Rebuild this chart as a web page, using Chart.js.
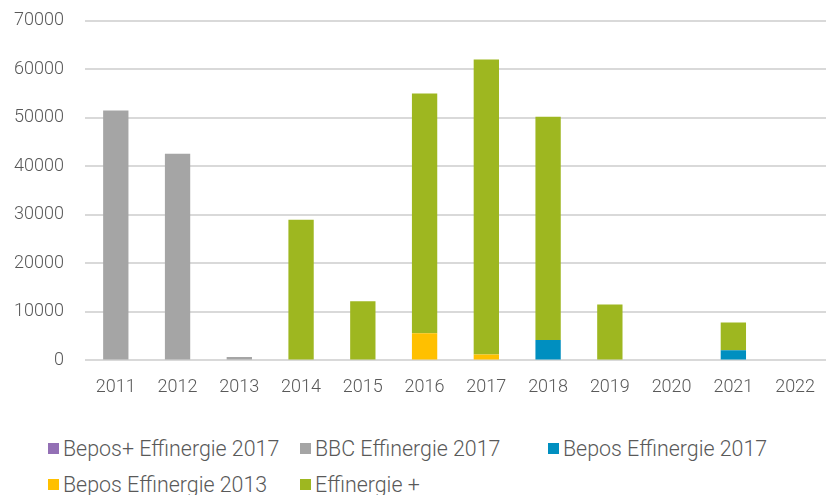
<!DOCTYPE html>
<html>
<head>
<meta charset="utf-8">
<script src="https://cdn.jsdelivr.net/npm/chart.js@4"></script>
<style>
  body { margin: 0; background: #fff; width: 832px; height: 495px; overflow: hidden; position: relative; }
  #wrap { position: absolute; left: -20px; top: -11px; width: 852px; height: 425px; }
  #legend { position: absolute; left: 48px; top: 437px; display: grid; grid-template-columns: 252px 248px 260px; row-gap: 14px;
            font-family: Roboto, "Noto Sans", sans-serif; font-weight: 300; font-size: 21.4px; color: #595959; }
  .item { display: flex; align-items: center; white-space: nowrap; height: 22px; }
  .box { width: 11px; height: 11px; margin-right: 4px; flex: none; }
</style>
</head>
<body>
<div id="wrap"><canvas id="chart"></canvas></div>
<div id="legend"></div>
<script>
const years = ['2011', '2012', '2013', '2014', '2015', '2016', '2017', '2018', '2019', '2020', '2021', '2022'];
const seriesNames = ['Bepos+ Effinergie 2017', 'BBC Effinergie 2017', 'Bepos Effinergie 2017', 'Bepos Effinergie 2013', 'Effinergie +'];
const seriesColors = ['#9370b5', '#a5a5a5', '#008fc0', '#ffc000', '#9eb720'];

const beposPlus2017 = [0, 0, 0, 0, 0, 0, 0, 0, 0, 0, 0, 0];
const bbc2017       = [51500, 42600, 700, 0, 0, 0, 0, 0, 0, 0, 0, 0];
const bepos2017     = [0, 0, 0, 0, 0, 0, 0, 4200, 0, 0, 2100, 0];
const bepos2013     = [0, 0, 0, 0, 0, 5600, 1200, 0, 0, 0, 0, 0];
const effinergiePlus = [0, 0, 0, 29000, 12200, 49400, 60800, 46000, 11500, 0, 5700, 0];

const seriesValues = [beposPlus2017, bbc2017, bepos2017, bepos2013, effinergiePlus];

const textColor = '#595959';
const font = { family: 'Roboto, "Noto Sans", sans-serif', size: 18, weight: 300 };

const chartData = {
  labels: years,
  datasets: seriesNames.map((name, i) => ({
    label: name,
    data: seriesValues[i],
    backgroundColor: seriesColors[i],
    borderWidth: 0,
    categoryPercentage: 1,
    barPercentage: 0.41
  }))
};

const chartConfig = {
  type: 'bar',
  data: chartData,
  options: {
    responsive: true,
    maintainAspectRatio: false,
    animation: false,
    events: [],
    layout: {
      padding: { left: 13, right: 6, top: 0, bottom: 0 }
    },
    plugins: {
      legend: { display: false },
      tooltip: { enabled: false }
    },
    scales: {
      x: {
        stacked: true,
        grid: { display: false, drawTicks: false },
        border: { display: false },
        ticks: { color: textColor, font: font, padding: 16 }
      },
      y: {
        stacked: true,
        min: 0,
        max: 70000,
        grid: { color: '#d9d9d9', lineWidth: 2, drawTicks: false },
        border: { display: false },
        ticks: { stepSize: 10000, color: textColor, font: font, padding: 21,
                 callback: v => String(v) }
      }
    }
  }
};

const chart = new Chart(document.getElementById('chart'), chartConfig);

// legend laid out in fixed columns like the original
const legendEl = document.getElementById('legend');
chart.data.datasets.forEach(ds => {
  const item = document.createElement('div');
  item.className = 'item';
  const box = document.createElement('span');
  box.className = 'box';
  box.style.background = ds.backgroundColor;
  const txt = document.createElement('span');
  txt.textContent = ds.label;
  item.appendChild(box);
  item.appendChild(txt);
  legendEl.appendChild(item);
});
</script>
</body>
</html>
